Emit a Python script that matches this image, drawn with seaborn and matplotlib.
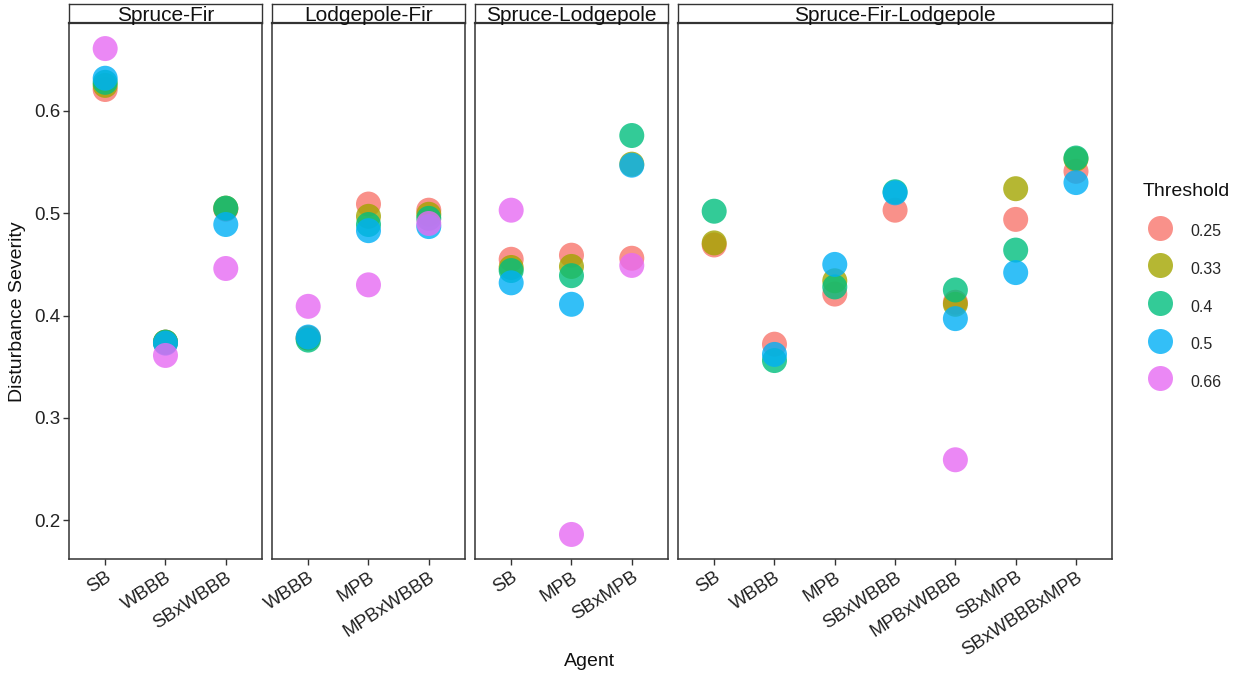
import matplotlib
matplotlib.use("Agg")
import matplotlib.pyplot as plt
from matplotlib.lines import Line2D
import seaborn as sns
import pandas as pd

# ---------------- data ----------------
thresholds = ["0.25", "0.33", "0.4", "0.5", "0.66"]
palette = ["#F8766D", "#A3A500", "#00BF7D", "#00B0F6", "#E76BF3"]

panel_names = ["Spruce-Fir", "Lodgepole-Fir", "Spruce-Lodgepole", "Spruce-Fir-Lodgepole"]

spruce_fir_agents = ["SB", "WBBB", "SBxWBBB"]
spruce_fir_severity = [
    [0.621, 0.625, 0.628, 0.632, 0.661],
    [0.374, 0.374, 0.374, 0.373, 0.361],
    [0.504, 0.505, 0.505, 0.489, 0.446],
]

lodgepole_fir_agents = ["WBBB", "MPB", "MPBxWBBB"]
lodgepole_fir_severity = [
    [0.378, 0.378, 0.376, 0.379, 0.409],
    [0.509, 0.497, 0.489, 0.483, 0.430],
    [0.503, 0.499, 0.495, 0.487, 0.490],
]

spruce_lodgepole_agents = ["SB", "MPB", "SBxMPB"]
spruce_lodgepole_severity = [
    [0.455, 0.447, 0.444, 0.432, 0.503],
    [0.459, 0.448, 0.439, 0.411, 0.186],
    [0.456, 0.548, 0.576, 0.547, 0.449],
]

sfl_agents = ["SB", "WBBB", "MPB", "SBxWBBB", "MPBxWBBB", "SBxMPB", "SBxWBBBxMPB"]
sfl_severity = [
    [0.469, 0.471, 0.502, None, None],
    [0.372, None, 0.356, 0.362, None],
    [0.421, 0.434, 0.428, 0.450, None],
    [0.503, None, 0.521, 0.520, None],
    [0.413, 0.411, 0.425, 0.397, 0.259],
    [0.494, 0.524, 0.464, 0.442, None],
    [0.541, 0.553, 0.554, 0.530, None],
]

panel_agents = [spruce_fir_agents, lodgepole_fir_agents, spruce_lodgepole_agents, sfl_agents]
panel_severity = [spruce_fir_severity, lodgepole_fir_severity, spruce_lodgepole_severity, sfl_severity]

y_ticks = [0.2, 0.3, 0.4, 0.5, 0.6]

# ---------------- styling ----------------
sns.set_style("white")
plt.rcParams["font.family"] = ["Liberation Sans", "DejaVu Sans"]

W, H = 1242, 676
fig = plt.figure(figsize=(W / 100, H / 100), dpi=100)

unit = 60.3          # px per category
lefts = [69, 272, 475, 678]
top_px, bottom_px = 23, 559
strip_top = 4
frame_col = "#333333"

axes = []
for i, (name, agents, sev) in enumerate(zip(panel_names, panel_agents, panel_severity)):
    rows = []
    for a, vals in zip(agents, sev):
        for t, v in zip(thresholds, vals):
            if v is not None:
                rows.append({"Agent": a, "Threshold": t, "Severity": v})
    df = pd.DataFrame(rows)

    n = len(agents)
    w_px = (n + 0.2) * unit
    ax = fig.add_axes([lefts[i] / W, 1 - bottom_px / H, w_px / W, (bottom_px - top_px) / H])
    sns.stripplot(data=df, x="Agent", y="Severity", hue="Threshold",
                  order=agents, hue_order=thresholds, palette=palette,
                  jitter=False, dodge=False, size=18, alpha=0.8, linewidth=0,
                  legend=False, ax=ax)
    ax.set_xlim(-0.6, n - 0.4)
    ax.set_ylim(0.162, 0.686)
    ax.set_xlabel("")
    ax.set_ylabel("")
    for s in ax.spines.values():
        s.set_visible(True)
        s.set_color(frame_col)
        s.set_linewidth(1.1)
    ax.set_xticks(range(n))
    ax.set_xticklabels(agents, rotation=33, ha="right", rotation_mode="anchor",
                       fontsize=13.5, color="#222222")
    ax.tick_params(axis="x", length=4, width=1, color=frame_col, pad=3, bottom=True)
    if i == 0:
        ax.set_yticks(y_ticks)
        ax.set_yticklabels([f"{v:.1f}" for v in y_ticks], fontsize=13.5, color="#222222")
        ax.tick_params(axis="y", length=4, width=1, color=frame_col, pad=2, left=True)
    else:
        ax.set_yticks(y_ticks)
        ax.tick_params(axis="y", left=False, labelleft=False)
    ax.grid(False)
    axes.append(ax)

    # strip
    sax = fig.add_axes([lefts[i] / W, 1 - top_px / H, w_px / W, (top_px - strip_top) / H])
    sax.set_facecolor("white")
    sax.set_xticks([])
    sax.set_yticks([])
    for s in sax.spines.values():
        s.set_visible(True)
        s.set_color(frame_col)
        s.set_linewidth(1.0)
    sax.spines["bottom"].set_linewidth(1.6)
    sax.text(0.5, 0.42, name, ha="center", va="center", fontsize=15, color="#111111",
             transform=sax.transAxes)

# axis titles
fig.text(18 / W, 1 - 312 / H, "Disturbance Severity", rotation=90, ha="center", va="center",
         fontsize=14, color="#111111")
fig.text(590 / W, 1 - 661 / H, "Agent", ha="center", va="center", fontsize=14, color="#111111")

# legend
fig.text(1143 / W, 1 - 192 / H, "Threshold", ha="left", va="center", fontsize=14, color="#111111")
handles = [Line2D([0], [0], marker="o", linestyle="", markersize=18, markerfacecolor=c,
                  markeredgewidth=0, alpha=0.8) for c in palette]
leg = fig.legend(handles, thresholds, loc="upper left",
                 bbox_to_anchor=(1142 / W, 1 - 219 / H), frameon=False,
                 fontsize=11.5, labelspacing=0.81, handleheight=2.0,
                 handletextpad=0.85, handlelength=2.2, borderaxespad=0, borderpad=0)

fig.savefig("out.png", dpi=100, facecolor="white")
